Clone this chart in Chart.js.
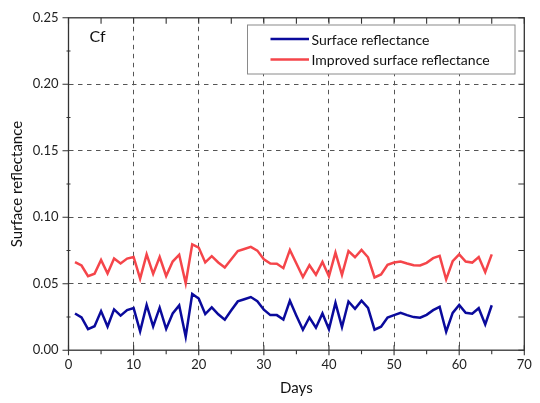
<!DOCTYPE html>
<html>
<head>
<meta charset="utf-8">
<script src="https://cdn.jsdelivr.net/npm/chart.js@4"></script>
<style>
  html, body { margin: 0; padding: 0; background: #fff; }
  #wrap { width: 540px; height: 403px; }
</style>
</head>
<body>
<div id="wrap"><canvas id="myChart" width="540" height="403"></canvas></div>
<script>
// days of the series (x axis)
const days = [1, 2, 3, 4, 5, 6, 7, 8, 9, 10, 11, 12, 13, 14, 15, 16, 17, 18, 19, 20,
    21, 22, 23, 24, 25, 26, 27, 28, 29, 30, 31, 32, 33, 34, 35, 36, 37, 38, 39, 40,
    41, 42, 43, 44, 45, 46, 47, 48, 49, 50, 51, 52, 53, 54, 55, 56, 57, 58, 59, 60,
    61, 62, 63, 64, 65];

// values
const surface = [0.0276, 0.0246, 0.0159, 0.0180, 0.0294, 0.0178, 0.0307, 0.0260, 0.0302, 0.0317,
    0.0142, 0.0341, 0.0179, 0.0320, 0.0160, 0.0276, 0.0337, 0.0102, 0.0423, 0.0389,
    0.0272, 0.0322, 0.0270, 0.0230, 0.0300, 0.0367, 0.0383, 0.0400, 0.0369, 0.0305,
    0.0264, 0.0264, 0.0230, 0.0372, 0.0260, 0.0154, 0.0246, 0.0169, 0.0276, 0.0157,
    0.0356, 0.0174, 0.0366, 0.0311, 0.0373, 0.0318, 0.0154, 0.0177, 0.0246, 0.0264,
    0.0281, 0.0264, 0.0249, 0.0244, 0.0266, 0.0301, 0.0326, 0.0139, 0.0281, 0.0341,
    0.0281, 0.0274, 0.0316, 0.0194, 0.0338];

const improved = [0.0663, 0.0637, 0.0557, 0.0575, 0.0679, 0.0577, 0.0690, 0.0652, 0.0689, 0.0701,
    0.0538, 0.0721, 0.0574, 0.0701, 0.0558, 0.0667, 0.0718, 0.0503, 0.0796, 0.0772,
    0.0660, 0.0707, 0.0660, 0.0622, 0.0684, 0.0746, 0.0761, 0.0777, 0.0749, 0.0684,
    0.0652, 0.0650, 0.0617, 0.0754, 0.0652, 0.0550, 0.0639, 0.0567, 0.0664, 0.0555,
    0.0734, 0.0567, 0.0746, 0.0699, 0.0754, 0.0699, 0.0547, 0.0570, 0.0642, 0.0659,
    0.0667, 0.0652, 0.0639, 0.0637, 0.0657, 0.0692, 0.0709, 0.0532, 0.0669, 0.0721,
    0.0667, 0.0659, 0.0701, 0.0587, 0.0721];

const seriesNames = ['Surface reflectance', 'Improved surface reflectance'];
const xTicks = [0, 10, 20, 30, 40, 50, 60, 70];
const yTicks = [0, 0.05, 0.10, 0.15, 0.20, 0.25];
const panelLabel = 'Cf';

const FONT = 'Lato';
const AXIS = '#333';

function toPoints(vals) {
    return vals.map((v, i) => ({ x: days[i], y: v }));
}

// box round the plot, with major / minor tick marks on all four sides
const framePlugin = {
    id: 'frame',
    afterDatasetsDraw(chart) {
        const { ctx, chartArea: a, scales: { x, y } } = chart;
        ctx.save();
        ctx.strokeStyle = AXIS;
        ctx.lineWidth = 1.3;
        ctx.strokeRect(a.left, a.top, a.right - a.left, a.bottom - a.top);
        ctx.lineWidth = 1.1;
        ctx.beginPath();
        for (let i = 0; i < xTicks.length; i++) {
            const px = x.getPixelForValue(xTicks[i]);
            ctx.moveTo(px, a.bottom - 5); ctx.lineTo(px, a.bottom + 5);
            ctx.moveTo(px, a.top); ctx.lineTo(px, a.top + 6);
            if (i < xTicks.length - 1) {
                const mx = x.getPixelForValue((xTicks[i] + xTicks[i + 1]) / 2);
                ctx.moveTo(mx, a.bottom); ctx.lineTo(mx, a.bottom + 4);
                ctx.moveTo(mx, a.top); ctx.lineTo(mx, a.top + 6);
            }
        }
        for (let i = 0; i < yTicks.length; i++) {
            const py = y.getPixelForValue(yTicks[i]);
            ctx.moveTo(a.left - 6, py); ctx.lineTo(a.left, py);
            ctx.moveTo(a.right, py); ctx.lineTo(a.right - 6, py);
            if (i < yTicks.length - 1) {
                const my = y.getPixelForValue((yTicks[i] + yTicks[i + 1]) / 2);
                ctx.moveTo(a.left - 2, my); ctx.lineTo(a.left + 2, my);
                ctx.moveTo(a.right, my); ctx.lineTo(a.right - 6, my);
            }
        }
        ctx.stroke();
        ctx.restore();
    },
    afterDraw(chart) {
        const ctx = chart.ctx;
        const a = chart.chartArea;
        ctx.save();
        // panel label
        ctx.fillStyle = '#111';
        ctx.font = '16px ' + FONT;
        ctx.textBaseline = 'alphabetic';
        ctx.fillText(panelLabel, a.left + 21, a.top + 24);

        // legend box
        const bx = 247.5, by = 25, bw = 267.5, bh = 49;
        ctx.strokeStyle = '#8a8a8a';
        ctx.lineWidth = 1;
        ctx.fillStyle = '#fff';
        ctx.fillRect(bx, by, bw, bh);
        ctx.strokeRect(bx, by, bw, bh);
        ctx.font = '14px ' + FONT;
        ctx.textBaseline = 'middle';
        chart.data.datasets.forEach((ds, i) => {
            const ly = by + 14 + i * 20.5;
            ctx.strokeStyle = ds.borderColor;
            ctx.lineWidth = 2.5;
            ctx.beginPath();
            ctx.moveTo(bx + 23, ly);
            ctx.lineTo(bx + 61.5, ly);
            ctx.stroke();
            ctx.fillStyle = '#111';
            ctx.fillText(ds.label, bx + 64, ly + 1);
        });
        ctx.restore();
    }
};

const ctx = document.getElementById('myChart').getContext('2d');
const myChart = new Chart(ctx, {
    type: 'line',
    data: {
        datasets: [
            {
                label: seriesNames[0],
                data: toPoints(surface),
                borderColor: '#0a0a9c',
                borderWidth: 2.5,
                pointRadius: 0,
                tension: 0,
            },
            {
                label: seriesNames[1],
                data: toPoints(improved),
                borderColor: '#f5454a',
                borderWidth: 2.5,
                pointRadius: 0,
                tension: 0,
            }
        ]
    },
    plugins: [framePlugin],
    options: {
        responsive: false,
        animation: false,
        layout: { padding: { top: 15.8, right: 15.7, left: 0, bottom: 0 } },
        scales: {
            x: {
                type: 'linear',
                min: 0,
                max: 70,
                afterBuildTicks: s => { s.ticks = xTicks.map(v => ({ value: v })); },
                afterFit: s => { s.height = 52.8; },
                ticks: {
                    padding: 7,
                    color: '#222',
                    font: { family: FONT, size: 13 },
                    callback: v => String(v)
                },
                grid: {
                    drawTicks: false,
                    color: c => (c.tick && c.tick.value > 0 && c.tick.value < 70) ? '#555' : 'rgba(0,0,0,0)',
                    lineWidth: 1
                },
                border: { display: false, dash: [4.5, 4.5] },
                title: {
                    display: true,
                    text: 'Days',
                    color: '#111',
                    font: { family: FONT, size: 15 },
                    padding: { top: 0, bottom: 5.5 }
                }
            },
            y: {
                min: 0,
                max: 0.25,
                afterBuildTicks: s => { s.ticks = yTicks.map(v => ({ value: v })); },
                afterFit: s => { s.width = 68.5; },
                ticks: {
                    padding: 10,
                    color: '#222',
                    font: { family: FONT, size: 13 },
                    callback: v => v.toFixed(2)
                },
                grid: {
                    drawTicks: false,
                    color: c => (c.tick && c.tick.value > 0.001 && c.tick.value < 0.249) ? '#555' : 'rgba(0,0,0,0)',
                    lineWidth: 1
                },
                border: { display: false, dash: [4.5, 4.5] },
                title: {
                    display: true,
                    text: 'Surface reflectance',
                    color: '#111',
                    font: { family: FONT, size: 15 },
                    padding: { top: 8.5, bottom: 0 }
                }
            }
        },
        plugins: {
            legend: { display: false },
            tooltip: { enabled: false }
        }
    }
});
</script>
</body>
</html>
